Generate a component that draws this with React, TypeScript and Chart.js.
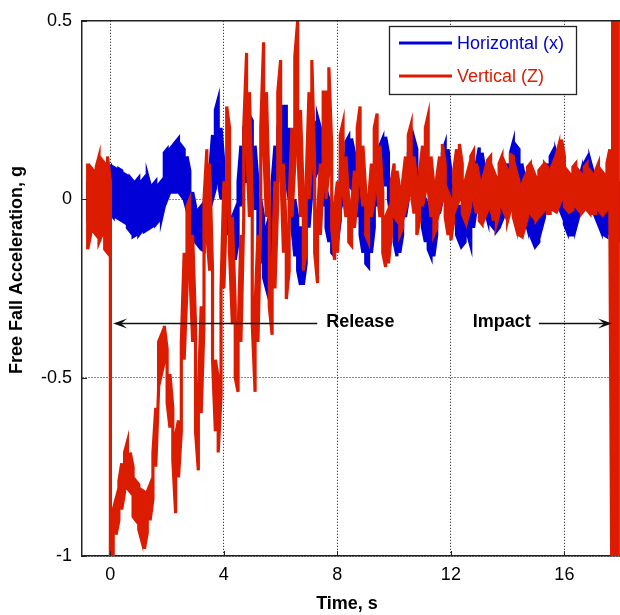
import React, { useEffect, useRef } from "react";
import { Chart, registerables } from "chart.js";

Chart.register(...registerables);

// Sample timing of the recorded envelopes (s)
const T_START = -0.8;
const T_STEP = 0.1;

const X_TICKS = [0, 4, 8, 12, 16];
const Y_TICKS = [-1, -0.5, 0, 0.5];
const SERIES_NAMES = ["Horizontal (x)", "Vertical (Z)"];
const X_TITLE = "Time, s";
const Y_TITLE = "Free Fall Acceleration, g";

// Horizontal (x): upper / lower envelope of the noisy trace, every 0.1 s from -0.8 s
const BLUE_HI = [
  0.05, 0.06, 0.04, 0.06, 0.07, 0.05, 0.06, 0.08,
  0.09, 0.09, 0.085, 0.085, 0.08, 0.07, 0.065, 0.06, 0.05, 0.05,
  0.06, 0.05, 0.06, 0.07, 0.04, 0.04, 0.05, 0.04, 0.05, 0.13,
  0.14, 0.14, 0.15, 0.16, 0.17, 0.15, 0.14, 0.12, 0.08, 0.02,
  -0.02, -0.03, -0.02, -0.01, 0.02, 0.08, 0.18, 0.25, 0.28, 0.2,
  0.1, 0.0, -0.03, -0.05, -0.03, 0.05, 0.15, 0.2, 0.22, 0.235,
  0.22, 0.15, 0.05, 0.0, -0.05, -0.08, -0.05, 0.05, 0.15, 0.2,
  0.23, 0.26, 0.26, 0.2, 0.1, 0.0, -0.05, -0.08, -0.08, -0.02,
  0.08, 0.18, 0.22, 0.23, 0.2, 0.12, 0.04, 0.0, -0.03, -0.02,
  0.02, 0.08, 0.13, 0.16, 0.175, 0.17, 0.13, 0.07, 0.02, -0.02,
  -0.04, -0.05, -0.02, 0.04, 0.1, 0.15, 0.17, 0.175, 0.13, 0.06,
  0.0, -0.03, -0.02, 0.03, 0.08, 0.13, 0.16, 0.17, 0.14, 0.08,
  0.03, 0.0, -0.02, -0.03, -0.03, 0.02, 0.08, 0.13, 0.155, 0.14,
  0.08, 0.02, -0.01, -0.02, -0.02, 0.0, 0.02, 0.0, 0.04, 0.1,
  0.145, 0.13, 0.08, 0.04, 0.02, 0.0, 0.0, 0.01, 0.04, 0.06,
  0.1, 0.13, 0.16, 0.15, 0.14, 0.1, 0.06, 0.03, 0.0, -0.02,
  -0.02, 0.0, 0.03, 0.06, 0.1, 0.12, 0.135, 0.13, 0.1, 0.06,
  0.03, 0.01, 0.0, 0.0, 0.02, 0.05, 0.08, 0.1, 0.115, 0.11,
  0.08, 0.05, 0.03, 0.01, 0.0, 0.0, 0.02, 0.04, 0.05, 0.05,
];
const BLUE_LO = [
  -0.05, -0.04, -0.06, -0.05, -0.04, -0.06, -0.05, -0.04,
  -0.04, -0.05, -0.05, -0.055, -0.06, -0.065, -0.08, -0.09, -0.105, -0.1,
  -0.1, -0.09, -0.09, -0.085, -0.08, -0.075, -0.07, -0.06, -0.055, -0.02,
  0.0, 0.02, 0.02, 0.02, 0.02, 0.01, 0.0, -0.03, -0.06, -0.1,
  -0.12, -0.13, -0.14, -0.145, -0.12, -0.05, 0.0, 0.03, 0.05, 0.0,
  -0.05, -0.1, -0.15, -0.18, -0.17, -0.12, -0.02, 0.04, 0.05, 0.05,
  0.03, -0.03, -0.1, -0.18, -0.22, -0.25, -0.22, -0.12, -0.02, 0.05,
  0.08, 0.08, 0.05, 0.0, -0.08, -0.16, -0.2, -0.24, -0.24, -0.18,
  -0.08, 0.02, 0.06, 0.08, 0.05, -0.02, -0.08, -0.12, -0.15, -0.16,
  -0.12, -0.06, 0.0, 0.03, 0.04, 0.03, 0.0, -0.05, -0.1, -0.15,
  -0.18, -0.19, -0.15, -0.08, -0.02, 0.02, 0.04, 0.04, 0.0, -0.06,
  -0.12, -0.16, -0.15, -0.1, -0.05, 0.0, 0.03, 0.04, 0.01, -0.04,
  -0.08, -0.12, -0.14, -0.16, -0.16, -0.1, -0.04, 0.0, 0.03, 0.02,
  -0.02, -0.07, -0.1, -0.12, -0.13, -0.12, -0.1, -0.13, -0.08, -0.02,
  0.02, 0.01, -0.03, -0.06, -0.07, -0.08, -0.09, -0.08, -0.06, -0.04,
  -0.02, 0.0, 0.02, 0.02, 0.01, -0.02, -0.05, -0.08, -0.1, -0.12,
  -0.13, -0.12, -0.08, -0.05, -0.02, 0.0, 0.02, 0.01, -0.02, -0.04,
  -0.07, -0.09, -0.1, -0.1, -0.08, -0.05, -0.03, -0.01, 0.0, 0.0,
  -0.03, -0.05, -0.07, -0.09, -0.1, -0.105, -0.09, -0.08, -0.08, -0.1,
];

// Vertical (Z): upper / lower envelope, every 0.1 s from -0.8 s
const RED_HI = [
  0.1, 0.09, 0.08, 0.09, 0.12, 0.11, 0.1, 0.12,
  0.05, -0.87, -0.84, -0.79, -0.74, -0.71, -0.68, -0.71, -0.75, -0.79,
  -0.8, -0.815, -0.82, -0.82, -0.8, -0.71, -0.585, -0.4, -0.38, -0.355,
  -0.42, -0.49, -0.585, -0.66, -0.62, -0.4, -0.15, -0.02, 0.0, -0.1,
  -0.35, -0.55, -0.3, 0.0, 0.14, 0.1, -0.2, -0.45, -0.5, -0.25,
  0.05, 0.26, 0.2, -0.05, -0.3, -0.38, -0.1, 0.2, 0.41, 0.3,
  0.0, -0.3, -0.1, 0.2, 0.44, 0.3, 0.0, -0.2, 0.05, 0.3,
  0.39, 0.1, -0.1, 0.0, 0.2, 0.4, 0.5, 0.25, 0.0, 0.05,
  0.3, 0.39, 0.1, -0.05, 0.1, 0.3, 0.3, 0.37, 0.15, -0.02,
  0.05, 0.18, 0.215, 0.12, 0.0, -0.02, 0.08, 0.2, 0.26, 0.15,
  0.02, 0.0, 0.1, 0.2, 0.24, 0.15, 0.02, -0.05, -0.03, 0.05,
  0.1, 0.08, 0.03, 0.05, 0.12, 0.18, 0.21, 0.12, 0.05, 0.08,
  0.15, 0.2, 0.235, 0.12, 0.04, 0.06, 0.12, 0.155, 0.1, 0.02,
  0.0, 0.08, 0.14, 0.155, 0.1, 0.05, 0.08, 0.12, 0.135, 0.1,
  0.06, 0.05, 0.08, 0.11, 0.12, 0.08, 0.06, 0.1, 0.12, 0.1,
  0.08, 0.125, 0.12, 0.08, 0.05, 0.04, 0.06, 0.09, 0.1, 0.08,
  0.06, 0.08, 0.09, 0.1, 0.09, 0.08, 0.1, 0.12, 0.15, 0.167,
  0.12, 0.08, 0.07, 0.09, 0.1, 0.08, 0.07, 0.09, 0.1, 0.08,
  0.07, 0.08, 0.1, 0.08, 0.07, 0.1, 0.14, 1.5, 1.5, 1.5,
];
const RED_LO = [
  -0.14, -0.1, -0.09, -0.1, -0.12, -0.1, -0.14, -0.15,
  -1.0, -1.0, -0.94, -0.9, -0.87, -0.82, -0.81, -0.82, -0.89, -0.9,
  -0.925, -0.955, -0.98, -0.935, -0.9, -0.84, -0.75, -0.53, -0.49, -0.455,
  -0.57, -0.64, -0.73, -0.88, -0.78, -0.65, -0.45, -0.25, -0.2, -0.4,
  -0.65, -0.76, -0.6, -0.35, -0.1, -0.2, -0.45, -0.65, -0.71, -0.55,
  -0.25, 0.0, -0.15, -0.35, -0.5, -0.54, -0.4, -0.05, 0.15, -0.05,
  -0.35, -0.54, -0.4, -0.05, 0.15, -0.05, -0.3, -0.38, -0.25, 0.0,
  0.1, -0.15, -0.28, -0.2, -0.05, 0.1, 0.15, -0.05, -0.2, -0.15,
  0.0, 0.1, -0.15, -0.235, -0.1, 0.05, 0.0, 0.08, -0.08, -0.17,
  -0.15, -0.02, 0.02, -0.05, -0.12, -0.13, -0.08, 0.0, 0.05, -0.02,
  -0.1, -0.12, -0.05, 0.0, 0.03, -0.05, -0.15, -0.19, -0.18, -0.1,
  -0.05, -0.06, -0.1, -0.08, -0.03, 0.0, 0.02, -0.04, -0.1, -0.06,
  -0.02, 0.02, 0.03, -0.05, -0.1, -0.08, -0.03, 0.0, -0.05, -0.1,
  -0.115, -0.06, -0.02, 0.0, -0.04, -0.06, -0.05, -0.02, 0.0, -0.04,
  -0.06, -0.07, -0.05, -0.03, -0.02, -0.06, -0.07, -0.04, -0.02, -0.04,
  -0.06, -0.03, -0.05, -0.08, -0.1, -0.105, -0.08, -0.05, -0.04, -0.05,
  -0.06, -0.05, -0.04, -0.03, -0.04, -0.04, -0.03, -0.035, -0.02, 0.0,
  -0.02, -0.03, -0.035, -0.03, -0.02, -0.03, -0.04, -0.03, -0.03, -0.04,
  -0.04, -0.04, -0.03, -0.04, -0.04, -0.03, -0.02, -1.5, -1.5, -1.5,
];

// Annotations (data coordinates)
const RELEASE_TEXT = "Release";
const RELEASE_TEXT_T = 8.81;
const RELEASE_ARROW = [7.29, 0.1]; // from, to (s)
const IMPACT_TEXT = "Impact";
const IMPACT_TEXT_T = 13.79;
const IMPACT_ARROW = [15.1, 17.68];
const ANNOT_G = -0.348;

const BLUE = "rgb(0,0,215)";
const RED = "rgb(220,28,0)";
const FONT = "'Liberation Sans', Arial, Helvetica, sans-serif";

function band(hi: number[], lo: number[]) {
  const pts: { x: number; y: number }[] = [];
  const n = Math.min(hi.length, lo.length);
  for (let i = 0; i < n; i++) {
    const t = +(T_START + i * T_STEP).toFixed(2);
    if (i % 2 === 0) {
      pts.push({ x: t, y: hi[i] }, { x: t, y: lo[i] });
    } else {
      pts.push({ x: t, y: lo[i] }, { x: t, y: hi[i] });
    }
  }
  return pts;
}

function arrowHead(ctx: CanvasRenderingContext2D, tipX: number, y: number, dir: number) {
  ctx.beginPath();
  ctx.moveTo(tipX, y);
  ctx.lineTo(tipX - dir * 14, y - 5);
  ctx.lineTo(tipX - dir * 8, y);
  ctx.lineTo(tipX - dir * 14, y + 5);
  ctx.closePath();
  ctx.fill();
}

const decorPlugin = {
  id: "decor",
  afterDatasetsDraw(chart: any) {
    const { ctx, chartArea: ca, scales } = chart;
    const xs = scales.x;
    const ys = scales.y;
    ctx.save();
    // top frame
    ctx.strokeStyle = "#222";
    ctx.lineWidth = 1.5;
    ctx.beginPath();
    ctx.moveTo(ca.left, ca.top);
    ctx.lineTo(ca.right, ca.top);
    ctx.stroke();
    // inward ticks
    ctx.lineWidth = 1;
    ctx.beginPath();
    X_TICKS.forEach((v) => {
      const px = Math.round(xs.getPixelForValue(v)) + 0.5;
      ctx.moveTo(px, ca.bottom);
      ctx.lineTo(px, ca.bottom - 5);
    });
    Y_TICKS.forEach((v) => {
      const py = Math.round(ys.getPixelForValue(v)) + 0.5;
      ctx.moveTo(ca.left, py);
      ctx.lineTo(ca.left + 5, py);
    });
    ctx.stroke();

    // legend
    const lx = 389.5, ly = 26.5, lw = 187, lh = 68;
    ctx.fillStyle = "#fff";
    ctx.fillRect(lx, ly, lw, lh);
    ctx.strokeStyle = "#222";
    ctx.lineWidth = 1.3;
    ctx.strokeRect(lx, ly, lw, lh);
    const rows = [
      { name: SERIES_NAMES[0], color: BLUE, y: 43 },
      { name: SERIES_NAMES[1], color: RED, y: 76 },
    ];
    ctx.font = `18px ${FONT}`;
    ctx.textBaseline = "middle";
    ctx.textAlign = "left";
    rows.forEach((r) => {
      ctx.strokeStyle = r.color;
      ctx.lineWidth = 3;
      ctx.beginPath();
      ctx.moveTo(399, r.y);
      ctx.lineTo(452, r.y);
      ctx.stroke();
      ctx.fillStyle = r.color;
      ctx.fillText(r.name, 457, r.y + 1);
    });

    // annotations
    const ay = Math.round(ys.getPixelForValue(ANNOT_G)) + 0.5;
    ctx.strokeStyle = "#111";
    ctx.fillStyle = "#111";
    ctx.lineWidth = 1.3;
    const r0 = xs.getPixelForValue(RELEASE_ARROW[0]);
    const r1 = xs.getPixelForValue(RELEASE_ARROW[1]);
    ctx.beginPath();
    ctx.moveTo(r0, ay);
    ctx.lineTo(r1 + 8, ay);
    ctx.stroke();
    arrowHead(ctx, r1, ay, -1);
    const i0 = xs.getPixelForValue(IMPACT_ARROW[0]);
    const i1 = xs.getPixelForValue(IMPACT_ARROW[1]);
    ctx.beginPath();
    ctx.moveTo(i0, ay);
    ctx.lineTo(i1 - 8, ay);
    ctx.stroke();
    arrowHead(ctx, i1, ay, 1);
    ctx.font = `bold 18px ${FONT}`;
    ctx.textAlign = "center";
    ctx.fillStyle = "#000";
    ctx.fillText(RELEASE_TEXT, xs.getPixelForValue(RELEASE_TEXT_T), ay - 1);
    ctx.fillText(IMPACT_TEXT, xs.getPixelForValue(IMPACT_TEXT_T), ay - 1);
    ctx.restore();
  },
  afterDraw(chart: any) {
    const { ctx } = chart;
    ctx.save();
    ctx.fillStyle = "#000";
    ctx.font = `bold 18px ${FONT}`;
    ctx.textAlign = "center";
    ctx.textBaseline = "middle";
    ctx.fillText(X_TITLE, 347, 604);
    ctx.translate(17.5, 270);
    ctx.rotate(-Math.PI / 2);
    ctx.fillText(Y_TITLE, 0, 0);
    ctx.restore();
  },
};

export default function App() {
  const ref = useRef<HTMLCanvasElement | null>(null);
  useEffect(() => {
    if (!ref.current) return;
    const tickFont = { family: FONT, size: 18 };
    const chart = new Chart(ref.current, {
      type: "line",
      data: {
        datasets: [
          {
            label: SERIES_NAMES[0],
            data: band(BLUE_HI, BLUE_LO),
            borderColor: BLUE,
            backgroundColor: BLUE,
            borderWidth: 3.2,
            pointRadius: 0,
            tension: 0,
            fill: false,
            order: 2,
            clip: 0,
          },
          {
            label: SERIES_NAMES[1],
            data: band(RED_HI, RED_LO),
            borderColor: RED,
            backgroundColor: RED,
            borderWidth: 3.2,
            pointRadius: 0,
            tension: 0,
            fill: false,
            order: 1,
            clip: 0,
          },
        ],
      },
      options: {
        animation: false,
        responsive: false,
        events: [],
        layout: { padding: { top: 15, right: 0, left: 0, bottom: 0 } },
        plugins: { legend: { display: false }, tooltip: { enabled: false } },
        scales: {
          x: {
            type: "linear",
            min: -1,
            max: 17.96,
            afterBuildTicks: (s: any) => {
              s.ticks = X_TICKS.map((v) => ({ value: v }));
            },
            afterFit: (s: any) => {
              s.height = 59;
            },
            ticks: {
              font: tickFont,
              color: "#000",
              padding: 8,
              maxRotation: 0,
              autoSkip: false,
              callback: (v: any) => String(v),
            },
            grid: { color: "#111", lineWidth: 1, drawTicks: false },
            border: { display: true, color: "#222", width: 1.5, dash: [1, 2] },
          },
          y: {
            type: "linear",
            min: -1,
            max: 0.5,
            afterBuildTicks: (s: any) => {
              s.ticks = Y_TICKS.map((v) => ({ value: v }));
            },
            afterFit: (s: any) => {
              s.width = 82;
            },
            ticks: {
              font: tickFont,
              color: "#000",
              padding: 10,
              autoSkip: false,
              callback: (v: any) => String(v),
            },
            grid: { color: "#111", lineWidth: 1, drawTicks: false },
            border: { display: true, color: "#222", width: 1.5, dash: [1, 2] },
          },
        },
      },
      plugins: [decorPlugin],
    } as any);
    return () => chart.destroy();
  }, []);
  return (
    <div style={{ position: "absolute", left: 0, top: 0, width: 620, height: 615, background: "#fff", overflow: "hidden" }}>
      <canvas ref={ref} width={620} height={615} style={{ display: "block" }} />
    </div>
  );
}
